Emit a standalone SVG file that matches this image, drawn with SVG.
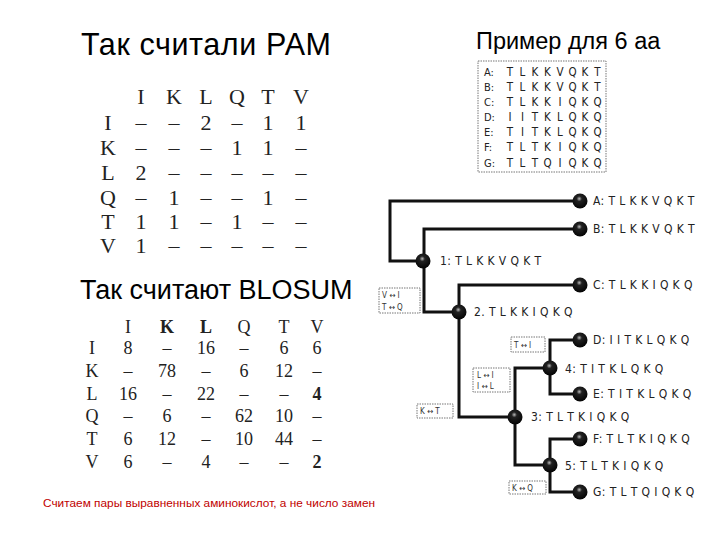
<svg xmlns="http://www.w3.org/2000/svg" width="720" height="540" viewBox="0 0 720 540">
<style>
.title{font-family:"Liberation Sans",Arial,sans-serif;font-size:27px;fill:#000}
.pam{font-family:"Liberation Serif","Times New Roman",serif;font-size:22px;fill:#222;text-anchor:middle}
.blo{font-family:"Liberation Serif","Times New Roman",serif;font-size:18px;fill:#222;text-anchor:middle}
.seq{font-family:"DejaVu Sans Condensed","Liberation Sans",sans-serif;font-size:11.5px;fill:#222;text-anchor:middle}
.lab{font-family:"DejaVu Sans Condensed","Liberation Sans",sans-serif;font-size:12px;letter-spacing:0.4px;fill:#222}
.slab{font-family:"DejaVu Sans Condensed","Liberation Sans",sans-serif;font-size:11px;fill:#222}
.box{fill:#fff;stroke:#777;stroke-width:1;stroke-dasharray:1.5 1}
.mut{font-family:"DejaVu Sans Condensed","Liberation Sans",sans-serif;font-size:8px;fill:#333}
.edge{fill:none;stroke:#111;stroke-width:3}
.note{font-family:"Liberation Sans",Arial,sans-serif;font-size:10.5px;fill:#c00000}
</style>
<defs>
<radialGradient id="ball" cx="0.45" cy="0.35" r="0.7">
<stop offset="0" stop-color="#bbb"/>
<stop offset="0.25" stop-color="#222"/>
<stop offset="1" stop-color="#000"/>
</radialGradient>
</defs>

<text class="title" x="81" y="55" style="font-size:30.5px" textLength="250" lengthAdjust="spacing">Так считали PAM</text>
<text class="title" x="80" y="299">Так считают BLOSUM</text>
<text class="title" x="476" y="49" style="font-size:23.5px">Пример для 6 аа</text>

<g id="pam">
<text class="pam" y="104"><tspan x="141">I</tspan><tspan x="174">K</tspan><tspan x="206">L</tspan><tspan x="237">Q</tspan><tspan x="268">T</tspan><tspan x="301">V</tspan></text>
<text class="pam" y="130"><tspan x="108">I</tspan><tspan x="141">–</tspan><tspan x="174">–</tspan><tspan x="206">2</tspan><tspan x="237">–</tspan><tspan x="268">1</tspan><tspan x="301">1</tspan></text>
<text class="pam" y="155"><tspan x="108">K</tspan><tspan x="141">–</tspan><tspan x="174">–</tspan><tspan x="206">–</tspan><tspan x="237">1</tspan><tspan x="268">1</tspan><tspan x="301">–</tspan></text>
<text class="pam" y="180"><tspan x="108">L</tspan><tspan x="141">2</tspan><tspan x="174">–</tspan><tspan x="206">–</tspan><tspan x="237">–</tspan><tspan x="268">–</tspan><tspan x="301">–</tspan></text>
<text class="pam" y="205"><tspan x="108">Q</tspan><tspan x="141">–</tspan><tspan x="174">1</tspan><tspan x="206">–</tspan><tspan x="237">–</tspan><tspan x="268">1</tspan><tspan x="301">–</tspan></text>
<text class="pam" y="229"><tspan x="108">T</tspan><tspan x="141">1</tspan><tspan x="174">1</tspan><tspan x="206">–</tspan><tspan x="237">1</tspan><tspan x="268">–</tspan><tspan x="301">–</tspan></text>
<text class="pam" y="253"><tspan x="108">V</tspan><tspan x="141">1</tspan><tspan x="174">–</tspan><tspan x="206">–</tspan><tspan x="237">–</tspan><tspan x="268">–</tspan><tspan x="301">–</tspan></text>
</g>

<g id="blosum">
<text class="blo" y="333"><tspan x="128">I</tspan><tspan x="167" font-weight="bold">K</tspan><tspan x="206" font-weight="bold">L</tspan><tspan x="244">Q</tspan><tspan x="284">T</tspan><tspan x="317">V</tspan></text>
<text class="blo" y="354"><tspan x="92">I</tspan><tspan x="128">8</tspan><tspan x="167">–</tspan><tspan x="206">16</tspan><tspan x="244">–</tspan><tspan x="284">6</tspan><tspan x="317">6</tspan></text>
<text class="blo" y="377"><tspan x="92">K</tspan><tspan x="128">–</tspan><tspan x="167">78</tspan><tspan x="206">–</tspan><tspan x="244">6</tspan><tspan x="284">12</tspan><tspan x="317">–</tspan></text>
<text class="blo" y="400"><tspan x="92">L</tspan><tspan x="128">16</tspan><tspan x="167">–</tspan><tspan x="206">22</tspan><tspan x="244">–</tspan><tspan x="284">–</tspan><tspan x="317" font-weight="bold">4</tspan></text>
<text class="blo" y="422"><tspan x="92">Q</tspan><tspan x="128">–</tspan><tspan x="167">6</tspan><tspan x="206">–</tspan><tspan x="244">62</tspan><tspan x="284">10</tspan><tspan x="317">–</tspan></text>
<text class="blo" y="445"><tspan x="92">T</tspan><tspan x="128">6</tspan><tspan x="167">12</tspan><tspan x="206">–</tspan><tspan x="244">10</tspan><tspan x="284">44</tspan><tspan x="317">–</tspan></text>
<text class="blo" y="468"><tspan x="92">V</tspan><tspan x="128">6</tspan><tspan x="167">–</tspan><tspan x="206">4</tspan><tspan x="244">–</tspan><tspan x="284">–</tspan><tspan x="317" font-weight="bold">2</tspan></text>
</g>

<g id="alignment">
<rect class="box" x="478" y="61" width="128" height="111"/>
<text class="slab" x="484" y="76">A:</text><text class="seq" y="76" x="510 522.5 535 547.5 560 572.5 585 597.5">TLKKVQKT</text>
<text class="slab" x="484" y="91">B:</text><text class="seq" y="91" x="510 522.5 535 547.5 560 572.5 585 597.5">TLKKVQKT</text>
<text class="slab" x="484" y="106">C:</text><text class="seq" y="106" x="510 522.5 535 547.5 560 572.5 585 597.5">TLKKIQKQ</text>
<text class="slab" x="484" y="121">D:</text><text class="seq" y="121" x="510 522.5 535 547.5 560 572.5 585 597.5">IITKLQKQ</text>
<text class="slab" x="484" y="136">E:</text><text class="seq" y="136" x="510 522.5 535 547.5 560 572.5 585 597.5">TITKLQKQ</text>
<text class="slab" x="484" y="151">F:</text><text class="seq" y="151" x="510 522.5 535 547.5 560 572.5 585 597.5">TLTKIQKQ</text>
<text class="slab" x="484" y="167">G:</text><text class="seq" y="167" x="510 522.5 535 547.5 560 572.5 585 597.5">TLTQIQKQ</text>
</g>

<g id="connectors">
<path class="edge" d="M580,201 H390 V261 H423"/>
<path class="edge" d="M424,261 V229 H580"/>
<path class="edge" d="M424,261 V312 H459"/>
<path class="edge" d="M459,312 V285 H580"/>
<path class="edge" d="M459,312 V417 H515"/>
<path class="edge" d="M515,417 V368 H550"/>
<path class="edge" d="M515,417 V465 H550"/>
<path class="edge" d="M580,340 H550 V394 H580"/>
<path class="edge" d="M580,439 H550 V492 H580"/>
</g>

<g id="node-A"><circle cx="580" cy="201" r="7.5" fill="url(#ball)"/><text class="lab" x="593" y="205">A: T L K K V Q K T</text></g>
<g id="node-B"><circle cx="580" cy="229" r="7.5" fill="url(#ball)"/><text class="lab" x="593" y="233">B: T L K K V Q K T</text></g>
<g id="node-C"><circle cx="580" cy="285" r="7.5" fill="url(#ball)"/><text class="lab" x="593" y="289">C: T L K K I Q K Q</text></g>
<g id="node-D"><circle cx="580" cy="340" r="7.5" fill="url(#ball)"/><text class="lab" x="593" y="344">D: I I T K L Q K Q</text></g>
<g id="node-E"><circle cx="580" cy="394" r="7.5" fill="url(#ball)"/><text class="lab" x="593" y="398">E: T I T K L Q K Q</text></g>
<g id="node-F"><circle cx="580" cy="439" r="7.5" fill="url(#ball)"/><text class="lab" x="593" y="443">F: T L T K I Q K Q</text></g>
<g id="node-G"><circle cx="580" cy="492" r="7.5" fill="url(#ball)"/><text class="lab" x="593" y="496">G: T L T Q I Q K Q</text></g>
<g id="node-1"><circle cx="423" cy="261" r="7.5" fill="url(#ball)"/><text class="lab" x="440" y="265">1: T L K K V Q K T</text></g>
<g id="node-2"><circle cx="459" cy="312" r="7.5" fill="url(#ball)"/><text class="lab" x="474" y="316">2. T L K K I Q K Q</text></g>
<g id="node-3"><circle cx="515" cy="417" r="7.5" fill="url(#ball)"/><text class="lab" x="531" y="421">3: T L T K I Q K Q</text></g>
<g id="node-4"><circle cx="550" cy="368" r="7.5" fill="url(#ball)"/><text class="lab" x="565" y="373">4: T I T K L Q K Q</text></g>
<g id="node-5"><circle cx="550" cy="465" r="7.5" fill="url(#ball)"/><text class="lab" x="565" y="470">5: T L T K I Q K Q</text></g>

<g id="mut-1"><rect class="box" x="379" y="288" width="41" height="25"/><text class="mut" x="382" y="298">V ↔ I</text><text class="mut" x="382" y="310">T ↔ Q</text></g>
<g id="mut-2"><rect class="box" x="511" y="337" width="34" height="15"/><text class="mut" x="514" y="348">T ↔ I</text></g>
<g id="mut-3"><rect class="box" x="473" y="368" width="37" height="24"/><text class="mut" x="477" y="378">L ↔ I</text><text class="mut" x="477" y="389">I ↔ L</text></g>
<g id="mut-4"><rect class="box" x="417" y="404" width="36" height="14"/><text class="mut" x="420" y="414">K ↔ T</text></g>
<g id="mut-5"><rect class="box" x="509" y="481" width="37" height="13"/><text class="mut" x="512" y="491">K ↔ Q</text></g>

<text class="note" x="43" y="507" textLength="332" lengthAdjust="spacingAndGlyphs">Считаем пары выравненных аминокислот, а не число замен</text>
</svg>
